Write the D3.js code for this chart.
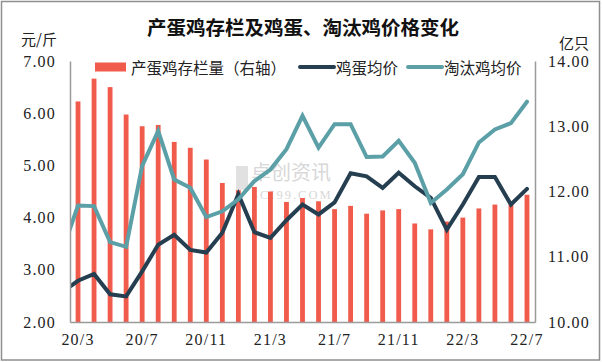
<!DOCTYPE html>
<html>
<head>
<meta charset="utf-8">
<script src="https://cdn.jsdelivr.net/npm/d3@7"></script>
<style>
  html, body { margin: 0; padding: 0; background: #fff; }
  svg { display: block; }
</style>
</head>
<body>
<svg id="chart" width="602" height="362"></svg>
<script>
// ── Data ─────────────────────────────────────────────────────
const months = ['20/3','20/4','20/5','20/6','20/7','20/8','20/9','20/10','20/11','20/12',
                '21/1','21/2','21/3','21/4','21/5','21/6','21/7','21/8','21/9','21/10','21/11','21/12',
                '22/1','22/2','22/3','22/4','22/5','22/6','22/7'];
const tickMonths = ['20/3','20/7','20/11','21/3','21/7','21/11','22/3','22/7'];

// 产蛋鸡存栏量 (亿只, right axis)
const layerStock = [13.38, 13.73, 13.60, 13.18, 13.00, 13.02, 12.76, 12.67, 12.49, 12.13,
                    12.02, 12.07, 12.00, 11.84, 11.90, 11.85, 11.73, 11.78, 11.66, 11.71,
                    11.73, 11.51, 11.42, 11.54, 11.60, 11.74, 11.80, 11.80, 11.95];

// lines start one month earlier (20/2) and are clipped at the axis
const leadMonth = '20/2';
const eggPrice = [2.57, 2.79, 2.92, 2.53, 2.49, 2.97, 3.48, 3.67, 3.38, 3.33, 3.71,
                  4.45, 3.72, 3.61, 3.95, 4.25, 4.06, 4.29, 4.85, 4.79, 4.57,
                  4.86, 4.60, 4.38, 3.77, 4.25, 4.78, 4.78, 4.25, 4.55];
const henPrice = [3.35, 4.23, 4.22, 3.53, 3.44, 4.99, 5.66, 4.73, 4.57, 4.01, 4.12,
                  4.35, 4.70, 4.92, 5.31, 5.95, 5.34, 5.79, 5.79, 5.16, 5.17,
                  5.47, 5.05, 4.28, 4.54, 4.83, 5.44, 5.69, 5.81, 6.22];

const leftTicks = [2, 3, 4, 5, 6, 7];
const rightTicks = [10, 11, 12, 13, 14];

const COLORS = {
  bar: '#F15B4B',
  egg: '#253F51',
  hen: '#5B9FA7',
  axis: '#9a9a9a',
  text: '#222'
};
const CJK = "'Noto Sans CJK SC', 'Noto Sans', sans-serif";
const NUM = "'Liberation Serif', 'DejaVu Serif', serif";

// ── Layout ───────────────────────────────────────────────────
const W = 602, H = 362;
const plot = { left: 70, right: 535, top: 61, bottom: 322 };

const svg = d3.select('#chart');

const x = d3.scaleBand()
  .domain(months)
  .range([plot.left, plot.right])
  .paddingInner(0.7)
  .paddingOuter(0.35);

const yLeft = d3.scaleLinear().domain([2, 7]).range([plot.bottom, plot.top]);
const yRight = d3.scaleLinear().domain([10, 14]).range([plot.bottom, plot.top]);

const lineMonths = [leadMonth, ...months];
// centre of a month; the lead month sits one step before the first band
const cx = m => m === leadMonth
  ? x(months[0]) + x.bandwidth() / 2 - x.step()
  : x(m) + x.bandwidth() / 2;

// outer frame
svg.append('rect')
  .attr('x', 1.5).attr('y', 1.5)
  .attr('width', W - 4).attr('height', H - 3.5)
  .attr('fill', '#fff')
  .attr('stroke', '#8f8f8f')
  .attr('stroke-width', 1.5);

svg.append('defs').append('clipPath')
  .attr('id', 'plot-clip')
  .append('rect')
  .attr('x', plot.left).attr('y', 0)
  .attr('width', plot.right - plot.left).attr('height', plot.bottom);

// ── Title & units ────────────────────────────────────────────
svg.append('text')
  .attr('x', (plot.left + plot.right) / 2 + 0.5)
  .attr('y', 26.5)
  .attr('text-anchor', 'middle')
  .attr('dominant-baseline', 'central')
  .attr('font-family', CJK)
  .attr('font-size', '19.5px')
  .attr('font-weight', 'bold')
  .attr('fill', '#111')
  .text('产蛋鸡存栏及鸡蛋、淘汰鸡价格变化');

svg.append('text')
  .attr('x', 39).attr('y', 38.5)
  .attr('text-anchor', 'middle')
  .attr('dominant-baseline', 'central')
  .attr('font-family', CJK)
  .attr('font-size', '15px')
  .attr('fill', COLORS.text)
  .text('元/斤');

svg.append('text')
  .attr('x', 574).attr('y', 42.5)
  .attr('text-anchor', 'middle')
  .attr('dominant-baseline', 'central')
  .attr('font-family', CJK)
  .attr('font-size', '15px')
  .attr('fill', COLORS.text)
  .text('亿只');

// ── Watermark ────────────────────────────────────────────────
const wm = svg.append('g').attr('opacity', 0.45);
wm.append('rect')
  .attr('x', 236).attr('y', 166).attr('width', 12).attr('height', 24)
  .attr('fill', '#bdbdbd');
wm.append('text')
  .attr('x', 251).attr('y', 171.5)
  .attr('dominant-baseline', 'central')
  .attr('font-family', CJK)
  .attr('font-size', '20px')
  .attr('fill', '#a9a9a9')
  .text('卓创资讯');
wm.append('text')
  .attr('x', 251).attr('y', 195)
  .attr('dominant-baseline', 'central')
  .attr('font-family', NUM)
  .attr('font-size', '12.5px')
  .attr('letter-spacing', '2px')
  .attr('fill', '#a9a9a9')
  .text('SCI99.COM');

// ── Bars ─────────────────────────────────────────────────────
svg.append('g')
  .selectAll('rect')
  .data(months)
  .join('rect')
  .attr('x', d => x(d))
  .attr('y', (d, i) => yRight(layerStock[i]))
  .attr('width', x.bandwidth())
  .attr('height', (d, i) => yRight(10) - yRight(layerStock[i]))
  .attr('fill', COLORS.bar);

// ── Lines ────────────────────────────────────────────────────
const lines = svg.append('g').attr('clip-path', 'url(#plot-clip)');

function drawLine(values, color) {
  const line = d3.line()
    .x((d, i) => cx(lineMonths[i]))
    .y(d => yLeft(d));
  lines.append('path')
    .datum(values)
    .attr('fill', 'none')
    .attr('stroke', color)
    .attr('stroke-width', 4)
    .attr('stroke-linejoin', 'miter')
    .attr('stroke-linecap', 'round')
    .attr('d', line);
}
drawLine(eggPrice, COLORS.egg);
drawLine(henPrice, COLORS.hen);

// ── Axes ─────────────────────────────────────────────────────
const axisL = d3.axisLeft(yLeft).tickValues(leftTicks).tickSize(0).tickPadding(14)
  .tickFormat(d3.format('.2f'));
const axisR = d3.axisRight(yRight).tickValues(rightTicks).tickSize(0).tickPadding(13)
  .tickFormat(d3.format('.2f'));
const axisB = d3.axisBottom(x).tickValues(tickMonths).tickSize(0).tickPadding(12);

function styleAxis(g) {
  g.select('.domain').attr('stroke', COLORS.axis).attr('stroke-width', 1.5);
  g.selectAll('text')
    .attr('font-family', NUM)
    .attr('font-size', '16px')
    .attr('letter-spacing', '1.2px')
    .attr('fill', COLORS.text);
}

svg.append('g')
  .attr('transform', `translate(${plot.left},0)`)
  .call(axisL).call(styleAxis);
svg.append('g')
  .attr('transform', `translate(${plot.right},0)`)
  .call(axisR).call(styleAxis);
svg.append('g')
  .attr('transform', `translate(0,${plot.bottom})`)
  .call(axisB).call(styleAxis);

// ── Legend ───────────────────────────────────────────────────
const legendItems = [
  { label: '产蛋鸡存栏量（右轴）', type: 'bar', color: COLORS.bar },
  { label: '鸡蛋均价', type: 'line', color: COLORS.egg },
  { label: '淘汰鸡均价', type: 'line', color: COLORS.hen }
];
const legend = svg.append('g').attr('transform', 'translate(95,67)');
let lx = 0;
legendItems.forEach((item, i) => {
  if (item.type === 'bar') {
    legend.append('rect')
      .attr('x', lx).attr('y', -4.5)
      .attr('width', 31).attr('height', 9)
      .attr('fill', item.color);
  } else {
    legend.append('line')
      .attr('x1', lx).attr('x2', lx + 34)
      .attr('stroke', item.color)
      .attr('stroke-width', 4)
      .attr('stroke-linecap', 'round');
  }
  lx += 36;
  const t = legend.append('text')
    .attr('x', lx).attr('y', 0)
    .attr('dominant-baseline', 'central')
    .attr('font-family', CJK)
    .attr('font-size', '15.5px')
    .attr('fill', COLORS.text)
    .text(item.label);
  lx += t.node().getComputedTextLength() + (i === 0 ? 14 : 10);
});
</script>
</body>
</html>
